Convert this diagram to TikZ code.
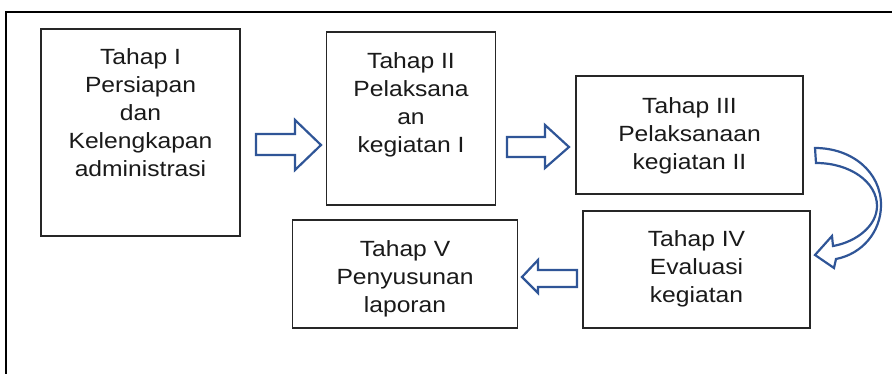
\documentclass[tikz,border=0pt]{standalone}
\usepackage{fontspec}
\setmainfont{Liberation Sans}
\newfontfamily\boxfont[FakeStretch=1.12]{Liberation Sans}
\definecolor{arrowblue}{HTML}{2F5597}
\definecolor{txt}{HTML}{1A1A1A}
\begin{document}
\begin{tikzpicture}[x=1pt,y=-1pt,
  stagebox/.style={draw=black!85,line width=1.3pt,fill=white,inner sep=0pt},
  stagetext/.style={anchor=north,align=center,inner sep=0pt,text=txt,
    font=\boxfont\fontsize{22}{28}\selectfont},
  blockarrow/.style={draw=arrowblue,line width=2.2pt,fill=white,line join=miter}]
\useasboundingbox (0,0) rectangle (892,374);
% outer frame
\draw[line width=1.3pt] (6,374) -- (6,12) -- (892,12);
% boxes
\node[stagebox,minimum width=199pt,minimum height=207pt] (b1) at (140.5,132.5) {};
\node[stagebox,minimum width=169pt,minimum height=173pt] (b2) at (411,118.5) {};
\node[stagebox,minimum width=227pt,minimum height=118pt] (b3) at (689.5,135) {};
\node[stagebox,minimum width=227pt,minimum height=117pt] (b4) at (696.5,269.5) {};
\node[stagebox,minimum width=225pt,minimum height=108pt] (b5) at (405,274) {};
% texts
\node[stagetext] (t1) at (140.5,48) {Tahap I\\Persiapan\\dan\\Kelengkapan\\administrasi};
\node[stagetext] (t2) at (411,52) {Tahap II\\Pelaksana\\an\\kegiatan I};
\node[stagetext] (t3) at (689.5,97) {Tahap III\\Pelaksanaan\\kegiatan II};
\node[stagetext] (t4) at (696.5,230) {Tahap IV\\Evaluasi\\kegiatan};
\node[stagetext] (t5) at (405,240) {Tahap V\\Penyusunan\\laporan};
% arrow 1 -> 2
\draw[blockarrow] (256,134) -- (295,134) -- (295,120) -- (321,145) -- (295,170) -- (295,155) -- (256,155) -- cycle;
% arrow 2 -> 3
\draw[blockarrow] (507,137) -- (545,137) -- (545,125) -- (569,147) -- (545,168) -- (545,157) -- (507,157) -- cycle;
% curved arrow 3 -> 4
\draw[blockarrow] (815,148) .. controls (852,148) and (881,172) .. (881,205)
  .. controls (881,232) and (862,254) .. (836,259)
  -- (834,268) -- (815,255) -- (832,236) -- (833,246)
  .. controls (856,242) and (877,226) .. (877,206)
  .. controls (877,182) and (850,163) .. (816,163) -- cycle;
% arrow 4 -> 5
\draw[blockarrow] (577,270) -- (538,270) -- (538,260) -- (522,277) -- (538,293) -- (538,287) -- (577,287) -- cycle;
\end{tikzpicture}
\end{document}
